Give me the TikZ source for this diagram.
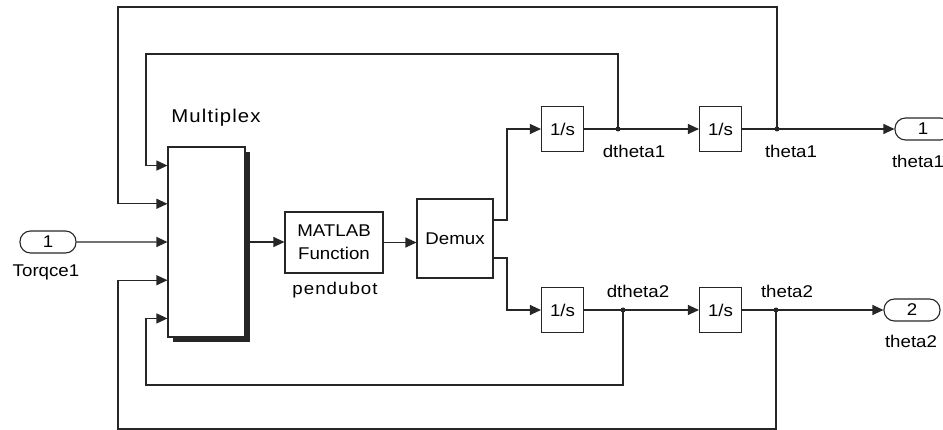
\documentclass[tikz,border=0pt]{standalone}
\usepackage{fontspec}
\setmainfont{Liberation Sans}[FakeStretch=1.1]
\usetikzlibrary{arrows.meta,calc,shadows}
\begin{document}
\begin{tikzpicture}[x=1pt,y=-1pt,
  font=\fontsize{17}{23}\selectfont,
  wire/.style={draw=black!85,line width=1.1pt},
  sig/.style={wire,-{Triangle[length=11pt,width=10pt]}},
  blk/.style={draw=black!85,line width=1.1pt,fill=white,inner sep=0pt,align=center},
  intg/.style={blk,minimum width=42pt,minimum height=45pt},
  port/.style={draw=black!85,line width=1.1pt,rounded corners=10.5pt,minimum width=56pt,minimum height=22pt,inner sep=0pt},
  lbl/.style={inner sep=0pt},
  jdot/.style={circle,fill=black!85,inner sep=0pt,minimum size=5pt}]
\useasboundingbox (0,0) rectangle (943,430);

% blocks
\node[blk,minimum width=77pt,minimum height=190pt,
      drop shadow={shadow xshift=5pt,shadow yshift=-5pt,fill=black!85,opacity=1}] (mux) at (206.5,242) {};
\node[blk,minimum width=98pt,minimum height=61pt] (mf) at (334,242.5) {MATLAB\\Function};
\node[blk,minimum width=76pt,minimum height=79pt] (dmx) at (455,238.5) {Demux};
\node[intg] (i1) at (562.5,129) {1/s};
\node[intg] (i2) at (720.5,129) {1/s};
\node[intg] (i3) at (562.5,310) {1/s};
\node[intg] (i4) at (720.5,310) {1/s};
\node[port] (in1) at (48,242) {1};
\node[port] (out1) at (923,129) {1};
\node[port] (out2) at (912,310) {2};

% labels
\node[lbl,font=\fontsize{18.5}{23}\selectfont] (lmux) at (216,118) {\addfontfeature{LetterSpace=6}Multiplex};
\node[lbl] (lin) at (46,272) {Torqce1};
\node[lbl] (lmf) at (335,290) {\addfontfeature{LetterSpace=6}pendubot};
\node[lbl] (ld1) at (634,151) {dtheta1};
\node[lbl] (lt1) at (791,151) {theta1};
\node[lbl] (ld2) at (638,291) {dtheta2};
\node[lbl] (lt2) at (787,291) {theta2};
\node[lbl] (lo1) at (918,161) {theta1};
\node[lbl] (lo2) at (911,341) {theta2};

% mux input points
\foreach \k/\f in {1/0.1,2/0.3,3/0.5,4/0.7,5/0.9}
  \coordinate (mi\k) at ($(mux.north west)!\f!(mux.south west)$);

% branch points
\coordinate (d1) at (618,129);
\coordinate (t1) at (777,129);
\coordinate (d2) at (623,310);
\coordinate (t2) at (776,310);
\coordinate (k1) at (507,220);
\coordinate (k2) at (507,258);

% forward path
\draw[sig] (in1.east) -- (mi3);
\draw[sig] (mux.east) -- (mux.east -| mf.west);
\draw[sig] (mf.east) -- (mf.east -| dmx.west);
\draw[sig] (dmx.east |- k1) -- (k1) |- (i1.west);
\draw[sig] (dmx.east |- k2) -- (k2) |- (i3.west);
\draw[sig] (i1.east) -- (i2.west);
\draw[sig] (i2.east) -- (out1.west);
\draw[sig] (i3.east) -- (i4.west);
\draw[sig] (i4.east) -- (out2.west);

% feedback
\draw[sig] (d1) |- (146,54) |- (mi1);
\draw[sig] (t1) |- (118,7) |- (mi2);
\draw[sig] (d2) |- (146,385) |- (mi5);
\draw[sig] (t2) |- (118,429) |- (mi4);

% junction dots
\foreach \p in {d1,t1,d2,t2} \node[jdot] at (\p) {};
\end{tikzpicture}
\end{document}
